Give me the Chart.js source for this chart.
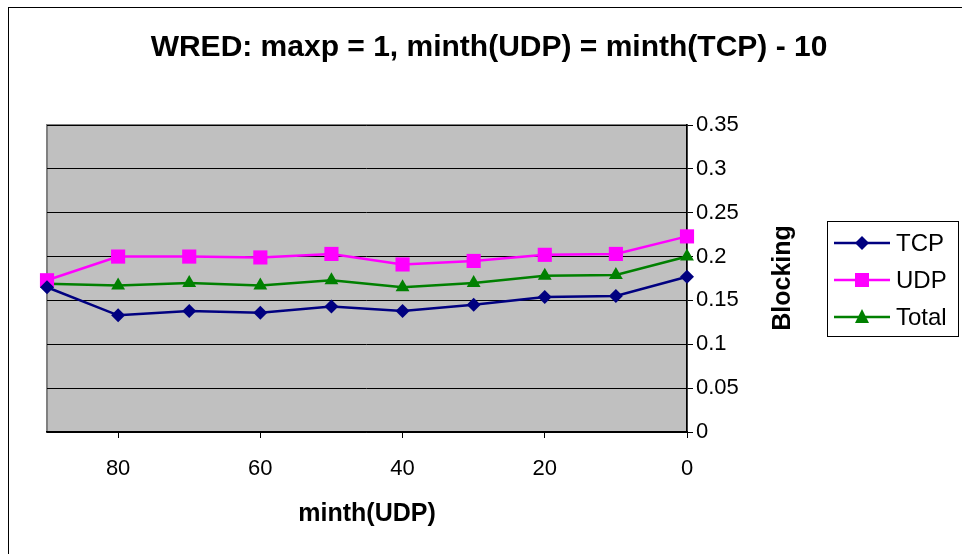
<!DOCTYPE html>
<html>
<head>
<meta charset="utf-8">
<script src="https://cdn.jsdelivr.net/npm/chart.js@4/dist/chart.umd.min.js"></script>
<style>
  html, body { margin:0; padding:0; background:#fff; overflow:hidden; }
  #wrap { position:relative; width:962px; height:554px; font-family:"Liberation Sans", Arial, sans-serif; }
  #frame { position:absolute; left:8px; top:7px; width:1000px; height:600px; border:1px solid #000; box-sizing:border-box; }
  #c { position:absolute; left:0; top:0; }
  #title { position:absolute; left:0; width:978px; top:28px; text-align:center; font-weight:bold; font-size:30px; line-height:36px; color:#000; white-space:nowrap; }
  #ytitle { position:absolute; left:781px; top:278px; transform:translate(-50%,-50%) rotate(-90deg); font-weight:bold; font-size:25px; line-height:30px; white-space:nowrap; color:#000; }
  #legend { position:absolute; left:827px; top:221px; width:132px; height:116px; border:1px solid #000; box-sizing:border-box; background:#fff; }
  .li { position:absolute; left:6px; height:30px; display:flex; align-items:center; font-size:24px; color:#000; }
  .li svg { margin-right:6px; }
</style>
</head>
<body>
<div id="wrap">
  <div id="frame"></div>
  <canvas id="c" width="962" height="554"></canvas>
  <div id="title">WRED: maxp = 1, minth(UDP) = minth(TCP) - 10</div>
  <div id="ytitle">Blocking</div>
  <div id="legend"></div>
</div>
<script>
const minthUDP = [90, 80, 70, 60, 50, 40, 30, 20, 10, 0];
const tcpBlocking   = [0.165, 0.133, 0.138, 0.136, 0.143, 0.138, 0.145, 0.154, 0.155, 0.177];
const udpBlocking   = [0.173, 0.200, 0.200, 0.199, 0.203, 0.191, 0.195, 0.202, 0.203, 0.223];
const totalBlocking = [0.169, 0.167, 0.170, 0.167, 0.173, 0.165, 0.170, 0.178, 0.179, 0.200];
const seriesNames = ["TCP", "UDP", "Total"];
const xTicks = [80, 60, 40, 20, 0];

const colors = ["#000080", "#FF00FF", "#008000"];
const styles = ["rectRot", "rect", "triangle"];
const radii = [7, 10, 8];
const values = [tcpBlocking, udpBlocking, totalBlocking];

const datasets = seriesNames.map((name, i) => ({
  label: name,
  data: minthUDP.map((x, j) => ({ x: x, y: values[i][j] })),
  borderColor: colors[i],
  backgroundColor: colors[i],
  pointBackgroundColor: colors[i],
  pointBorderColor: colors[i],
  pointStyle: styles[i],
  pointRadius: radii[i],
  pointBorderWidth: 0,
  borderWidth: 2.5,
  tension: 0,
  clip: false
}));

const plotBg = {
  id: 'plotBg',
  beforeDraw(chart) {
    const a = chart.chartArea, ctx = chart.ctx;
    ctx.save();
    ctx.fillStyle = '#C0C0C0';
    ctx.fillRect(a.left, a.top, a.right - a.left, a.bottom - a.top);
    ctx.strokeStyle = '#808080';
    ctx.lineWidth = 2;
    ctx.strokeRect(a.left, a.top, a.right - a.left, a.bottom - a.top);
    ctx.restore();
  }
};

new Chart(document.getElementById('c'), {
  type: 'line',
  data: { datasets },
  plugins: [plotBg],
  options: {
    responsive: false,
    animation: false,
    layout: { padding: { left: 47, top: 125, right: 0, bottom: 0 } },
    plugins: { legend: { display: false }, title: { display: false }, tooltip: { enabled: false } },
    scales: {
      x: {
        type: 'linear',
        position: 'bottom',
        min: 0, max: 90,
        reverse: true,
        afterFit(s) { s.height = 554 - 432; },
        afterBuildTicks(s) { s.ticks = xTicks.map(v => ({ value: v })); },
        ticks: { color: '#000', font: { family: '"Liberation Sans", Arial, sans-serif', size: 22 }, padding: 18, maxRotation: 0, includeBounds: false },
        grid: { drawOnChartArea: false, drawTicks: true, tickLength: 6, color: '#000', lineWidth: 1 },
        border: { color: '#000', width: 1.5 },
        title: { display: true, text: 'minth(UDP)', color: '#000', font: { family: '"Liberation Sans", Arial, sans-serif', size: 25, weight: 'bold' }, padding: { top: 0, bottom: 25 } }
      },
      y: {
        type: 'linear',
        position: 'right',
        min: 0, max: 0.35,
        afterFit(s) { s.width = 962 - 687; },
        ticks: {
          stepSize: 0.05, color: '#000', padding: 3,
          font: { family: '"Liberation Sans", Arial, sans-serif', size: 22 },
          callback: (v) => String(Number(v.toFixed(2)))
        },
        grid: { drawOnChartArea: true, drawTicks: true, tickLength: 6, color: '#000', lineWidth: 1 },
        border: { color: '#000', width: 1.5 }
      }
    }
  }
});

// legend (HTML text)
const legend = document.getElementById('legend');
const tops = [6, 43, 80];
seriesNames.forEach((name, i) => {
  const d = document.createElement('div');
  d.className = 'li';
  d.style.top = tops[i] + 'px';
  let marker = '';
  if (i === 0) marker = `<polygon points="28,8 35,15 28,22 21,15" fill="${colors[i]}"/>`;
  if (i === 1) marker = `<rect x="21" y="8" width="14" height="14" fill="${colors[i]}"/>`;
  if (i === 2) marker = `<polygon points="28,7 35,21 21,21" fill="${colors[i]}"/>`;
  d.innerHTML = `<svg width="56" height="30"><line x1="0" y1="15" x2="56" y2="15" stroke="${colors[i]}" stroke-width="2.5"/>${marker}</svg><span>${name}</span>`;
  legend.appendChild(d);
});
</script>
</body>
</html>
